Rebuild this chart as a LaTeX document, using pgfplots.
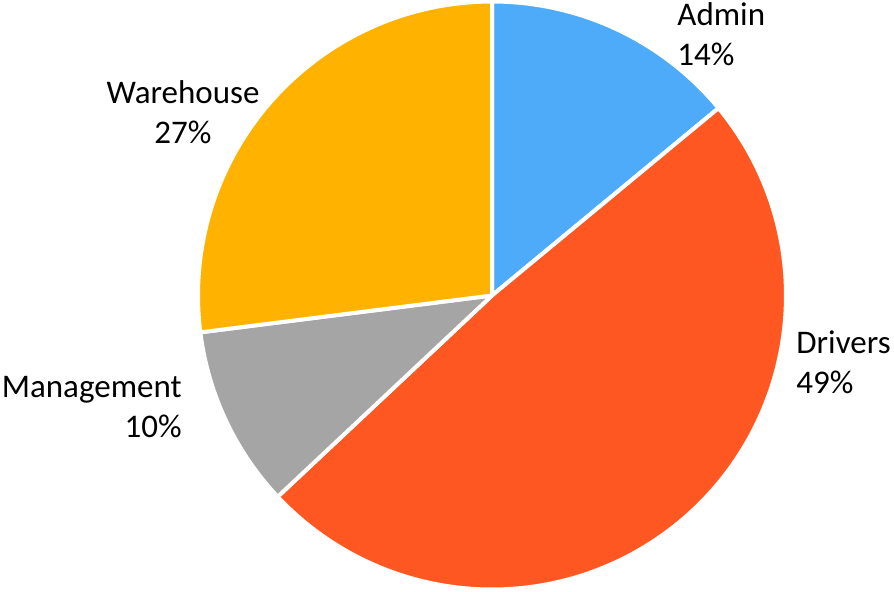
\documentclass[border=0pt]{standalone}
\usepackage{pgfplots}
\pgfplotsset{compat=1.18}
\usepackage{fontspec}
\setmainfont{Carlito}
\definecolor{cAdmin}{HTML}{4DABFA}
\definecolor{cDrivers}{HTML}{FF5722}
\definecolor{cMgmt}{HTML}{A5A5A5}
\definecolor{cWare}{HTML}{FFB300}
% shares in percent
\def\pAdmin{14}
\def\pDrivers{49}
\def\pMgmt{10}
\def\pWare{27}
\pgfmathsetmacro{\aA}{90}
\pgfmathsetmacro{\aB}{\aA-3.6*\pAdmin}
\pgfmathsetmacro{\aC}{\aB-3.6*\pDrivers}
\pgfmathsetmacro{\aD}{\aC-3.6*\pMgmt}
\pgfmathsetmacro{\aE}{\aD-3.6*\pWare}
\begin{document}
\begin{tikzpicture}
\begin{axis}[
  hide axis, scale only axis,
  x=0.5pt, y=0.5pt,
  xmin=0, xmax=894, ymin=0, ymax=591,
  clip=false,
]
\addplot[fill=cAdmin, draw=white, line width=2pt, line join=round, domain=\aA:\aB, samples=60, variable=\t]
  ({492+294*cos(\t)},{295.5+294*sin(\t)}) -- (axis cs:492,295.5) -- cycle;
\addplot[fill=cDrivers, draw=white, line width=2pt, line join=round, domain=\aB:\aC, samples=150, variable=\t]
  ({492+294*cos(\t)},{295.5+294*sin(\t)}) -- (axis cs:492,295.5) -- cycle;
\addplot[fill=cMgmt, draw=white, line width=2pt, line join=round, domain=\aC:\aD, samples=40, variable=\t]
  ({492+294*cos(\t)},{295.5+294*sin(\t)}) -- (axis cs:492,295.5) -- cycle;
\addplot[fill=cWare, draw=white, line width=2pt, line join=round, domain=\aD:\aE, samples=100, variable=\t]
  ({492+294*cos(\t)},{295.5+294*sin(\t)}) -- (axis cs:492,295.5) -- cycle;

\node[anchor=west, align=left, font=\fontsize{16.5}{20}\selectfont, inner sep=0pt] at (axis cs:677,557) {Admin\\\pAdmin\%};
\node[anchor=west, align=left, font=\fontsize{16.5}{20}\selectfont, inner sep=0pt] at (axis cs:796,229) {Drivers\\\pDrivers\%};
\node[anchor=east, align=right, font=\fontsize{16.5}{20}\selectfont, inner sep=0pt] at (axis cs:182,184) {Management\\\pMgmt\%};
\node[anchor=center, align=center, font=\fontsize{16.5}{20}\selectfont, inner sep=0pt] at (axis cs:183,479) {Warehouse\\\pWare\%};
\end{axis}
\pgfresetboundingbox
\useasboundingbox (current axis.south west) rectangle (current axis.north east);
\end{tikzpicture}
\end{document}
